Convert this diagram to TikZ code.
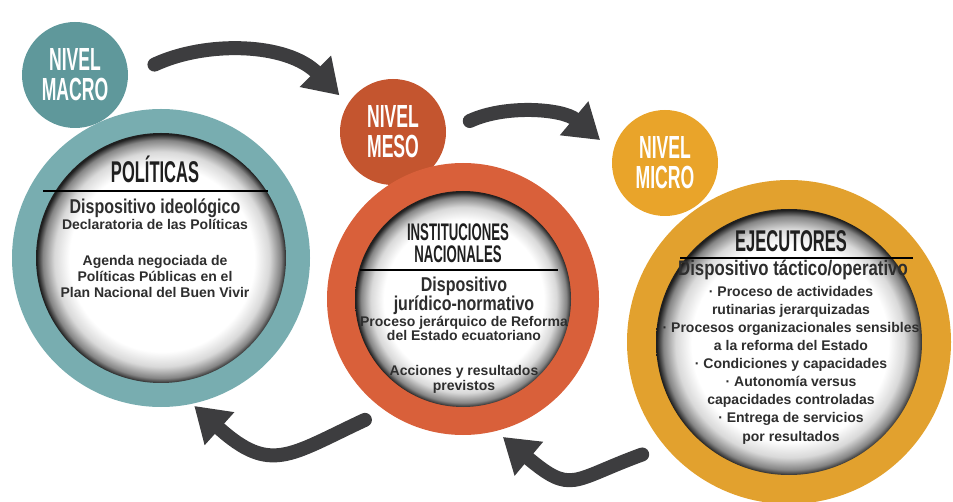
\documentclass[tikz,border=0pt]{standalone}
\usepackage{fontspec}
\setmainfont{Liberation Sans}
\newfontfamily\titlefont[FakeStretch=0.55]{Liberation Sans}
\newfontfamily\headfont[FakeStretch=0.8]{Liberation Sans}
\usetikzlibrary{arrows.meta}

\definecolor{tealring}{HTML}{78ADB0}
\definecolor{tealdot}{HTML}{5F989B}
\definecolor{mesoring}{HTML}{D9603A}
\definecolor{mesodot}{HTML}{C4552F}
\definecolor{microring}{HTML}{E2A12E}
\definecolor{microdot}{HTML}{E9A42A}
\definecolor{arrowgray}{HTML}{3D3D3F}
\definecolor{txt}{HTML}{2E2E2E}

\pgfdeclareradialshading{vignette}{\pgfpoint{0.3bp}{-0.4bp}}{color(0bp)=(white); color(18.5bp)=(white); color(21.5bp)=(black!15); color(23.8bp)=(black!48); color(25bp)=(black!88); color(50bp)=(black!88)}

\tikzset{nivel/.style={circle, minimum size=106pt, inner sep=0pt, text=white, align=center, font=\titlefont\bfseries\fontsize{32}{30}\selectfont}}
\tikzset{ring/.style={circle, inner sep=0pt}}
\tikzset{title/.style={text=black!88, align=center, inner sep=0pt, font=\titlefont\bfseries\fontsize{30}{22}\selectfont}}
\tikzset{head/.style={text=txt, align=center, inner sep=0pt, font=\headfont\bfseries\fontsize{20}{19}\selectfont}}
\tikzset{body/.style={text=txt, align=center, inner sep=0pt, font=\bfseries\fontsize{14}{16}\selectfont}}
\tikzset{flow/.style={arrowgray, line width=14pt, line cap=round, -{Triangle[width=42pt,length=34pt]}}}
\tikzset{rulebar/.style={black, line width=2pt}}

\begin{document}
\begin{tikzpicture}[x=1pt,y=1pt]
\useasboundingbox (0,0) rectangle (953,-502);

% level badges
\node[nivel, fill=tealdot] (macro) at (75,-75) {NIVEL\\MACRO};
\node[nivel, fill=mesodot] (meso) at (393,-132) {NIVEL\\MESO};
\node[nivel, fill=microdot] (micro) at (665,-163) {NIVEL\\MICRO};

% rings
\node[ring, fill=tealring, minimum size=298pt] (polit) at (161,-258) {};
\node[ring, fill=mesoring, minimum size=272pt] (inst) at (463,-299) {};
\node[ring, fill=microring, minimum size=324pt] (ejec) at (789,-342) {};
\shade[shading=vignette] (polit.center) circle (125);
\shade[shading=vignette] (inst.center) circle (108);
\shade[shading=vignette] (ejec.center) circle (133);

% macro (base = last line)
\node[title, anchor=base] (politT) at (155,-183) {POLÍTICAS};
\draw[rulebar] (43,-191) -- (268,-191);
\node[head, anchor=base] (politH) at (155,-214) {Dispositivo ideológico};
\node[body, anchor=base] (politB) at (155,-230) {Declaratoria de las Políticas};
\node[body, anchor=base] (politC) at (155,-298) {Agenda negociada de\\Políticas Públicas en el\\Plan Nacional del Buen Vivir};

% meso
\node[title, anchor=base, font=\titlefont\bfseries\fontsize{24}{22.5}\selectfont] (instT) at (458,-263) {INSTITUCIONES\\NACIONALES};
\draw[rulebar] (360,-270) -- (558,-270);
\node[head, anchor=base] (instH) at (464,-311) {Dispositivo\\jurídico-normativo};
\node[body, anchor=base, font=\bfseries\fontsize{14}{14.5}\selectfont] (instB) at (464,-341) {Proceso jerárquico de Reforma\\del Estado ecuatoriano};
\node[body, anchor=base, font=\bfseries\fontsize{14}{15}\selectfont] (instC) at (464,-391) {Acciones y resultados\\previstos};

% micro
\node[title, anchor=base] (ejecT) at (791,-252) {EJECUTORES};
\draw[rulebar] (680,-258) -- (913,-258);
\node[head, anchor=base, font=\headfont\bfseries\fontsize{21}{19}\selectfont] (ejecH) at (793,-276) {Dispositivo táctico/operativo};
\node[body, anchor=base, font=\bfseries\fontsize{14}{18.1}\selectfont] (ejecB) at (791,-441) {· Proceso de actividades\\rutinarias jerarquizadas\\· Procesos organizacionales sensibles\\a la reforma del Estado\\· Condiciones y capacidades\\· Autonomía versus\\capacidades controladas\\· Entrega de servicios\\por resultados};

% cycle
\draw[flow, shorten <=29pt, shorten >=12pt] (macro.-2) to[out=25, in=135] (meso.148);
\draw[flow, shorten <=26pt, shorten >=17pt] (meso.0) to[out=25, in=140] (micro.167);
\draw[flow, shorten <=24pt, shorten >=9pt] (ejec.220) to[out=200, in=-40, looseness=1.5] (inst.-76);
\draw[flow, shorten <=22pt, shorten >=3pt] (inst.235) to[out=205, in=-42, looseness=1.4] (polit.-78);
\end{tikzpicture}
\end{document}
